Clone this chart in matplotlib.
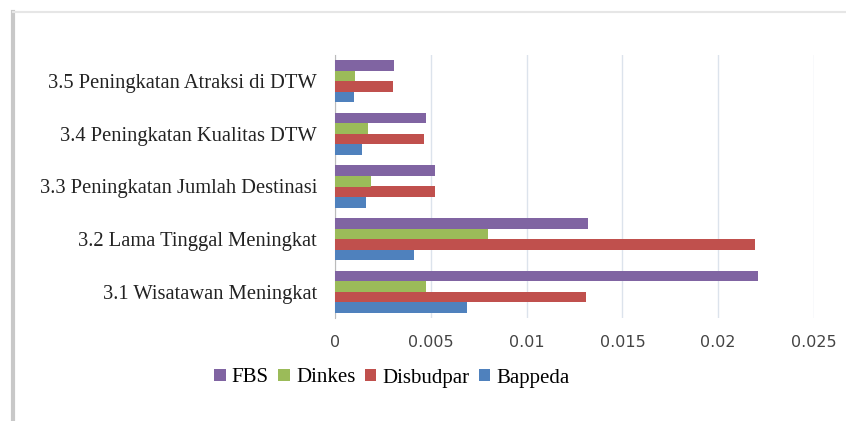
import matplotlib
matplotlib.use('Agg')
import matplotlib.pyplot as plt
from matplotlib.lines import Line2D
import numpy as np

categories = ['3.1 Wisatawan Meningkat', '3.2 Lama Tinggal Meningkat',
              '3.3 Peningkatan Jumlah Destinasi', '3.4 Peningkatan Kualitas DTW',
              '3.5 Peningkatan Atraksi di DTW']
bappeda = [0.0069, 0.0041, 0.0016, 0.0014, 0.0010]
disbudpar = [0.0131, 0.0219, 0.0052, 0.00465, 0.00305]
dinkes = [0.00475, 0.0080, 0.0019, 0.0017, 0.00105]
fbs = [0.0221, 0.0132, 0.0052, 0.00475, 0.0031]
series_names = ['Bappeda', 'Disbudpar', 'Dinkes', 'FBS']
colors = ['#4F81BD', '#C0504D', '#9BBB59', '#8064A2']
xticks = [0, 0.005, 0.01, 0.015, 0.02, 0.025]
xticklabels = ['0', '0.005', '0.01', '0.015', '0.02', '0.025']

fig = plt.figure(figsize=(8.46, 4.21), dpi=100)
ax = fig.add_axes([335 / 846, 1 - 318 / 421, (814 - 335) / 846, (318 - 55) / 421])

y = np.arange(len(categories))
h = 0.2
for i, (vals, name, c) in enumerate(zip([bappeda, disbudpar, dinkes, fbs], series_names, colors)):
    ax.barh(y + (i - 1.5) * h, vals, height=h, color=c, label=name, zorder=3)

ax.set_xlim(0, 0.025)
ax.set_ylim(-0.5, len(categories) - 0.5)
ax.set_yticks(y)
ax.set_yticklabels(categories, fontfamily='Liberation Serif', fontsize=14.8, color='#222222')
ax.set_xticks(xticks)
ax.set_xticklabels(xticklabels, fontsize=11.5, color='#444444')
ax.tick_params(axis='y', length=0, pad=13)
ax.tick_params(axis='x', length=0, pad=12)
ax.grid(axis='x', color='#DCE3EC', linewidth=1, zorder=0)
for s in ['top', 'right', 'bottom']:
    ax.spines[s].set_visible(False)
ax.spines['left'].set_color('#BBBBBB')

handles, labels = ax.get_legend_handles_labels()
fig.legend(handles[::-1], labels[::-1], loc='center', bbox_to_anchor=(392 / 846, 1 - 378 / 421),
           ncol=4, frameon=False, handlelength=0.55, handleheight=0.55, handletextpad=0.3,
           columnspacing=0.45, prop={'family': 'Liberation Serif', 'size': 15})

# frame shadow lines
fig.add_artist(Line2D([13 / 846, 13 / 846], [0, 1 - 12 / 421], transform=fig.transFigure,
                      color='#C8C8C8', linewidth=3))
fig.add_artist(Line2D([13 / 846, 1], [1 - 12 / 421, 1 - 12 / 421], transform=fig.transFigure,
                      color='#E6E6E6', linewidth=1.5))

fig.savefig('out.png', dpi=100)
